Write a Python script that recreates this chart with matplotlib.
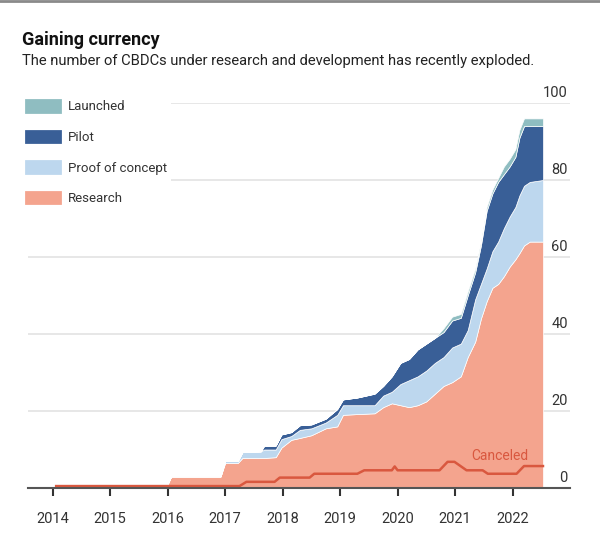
import matplotlib
matplotlib.use("Agg")
import matplotlib.pyplot as plt
from matplotlib.patches import Patch
from matplotlib.lines import Line2D

plt.rcParams['font.family'] = ['Liberation Sans Narrow', 'Roboto', 'DejaVu Sans']

# decimal years of the stacked series
years = [2014.06, 2016.0, 2016.06, 2016.92, 2017.0, 2017.22, 2017.3, 2017.62, 2017.68, 2017.88,
         2017.98, 2018.15, 2018.3, 2018.5, 2018.75, 2018.95, 2019.05, 2019.3, 2019.6, 2019.75,
         2019.9, 2020.05, 2020.2, 2020.35, 2020.5, 2020.65, 2020.8, 2020.95, 2021.1, 2021.22,
         2021.35, 2021.45, 2021.55, 2021.65, 2021.75, 2021.85, 2021.95, 2022.05, 2022.12, 2022.2,
         2022.3, 2022.53]
research = [1, 1, 3, 3, 6.5, 6.5, 7.8, 7.8, 7.8, 8,
            10.5, 12.5, 13, 13.7, 15.5, 16, 19, 19.2, 19.4, 21,
            22, 21.5, 21, 21.5, 22.5, 24.5, 26.5, 27.5, 29, 34,
            38, 44, 48.5, 52, 53, 55, 57.5, 59.4, 61, 63,
            64, 64]
proof = [0, 0, 0, 0, 0.5, 0.5, 1.5, 1.7, 2.2, 2,
         2.2, 1, 2.1, 1.8, 1.5, 3, 2.5, 2.3, 2.1, 3,
         3, 5.5, 7, 7.5, 8, 8, 7.5, 9, 8.5, 7,
         11, 9, 8.5, 9.5, 11, 12.5, 13, 13.6, 15, 15.5,
         15.5, 16]
pilot = [0, 0, 0, 0, 0, 0, 0, 0, 1, 1,
         1.2, 1, 1.2, 1, 1, 1.5, 1.5, 2, 3, 2.5,
         4, 5.5, 5.5, 7, 7, 6.5, 6.5, 7, 6.7, 9,
         7, 10, 15, 15, 15.5, 14, 13, 13, 15, 15.5,
         14.5, 14]
launched = [0, 0, 0, 0, 0, 0, 0, 0, 0, 0,
            0, 0, 0, 0, 0, 0, 0, 0, 0, 0,
            0, 0, 0, 0, 0, 0, 1, 1, 1, 1,
            1, 1, 1, 1, 1, 2, 2, 2, 2, 2,
            2, 2]

cancel_years = [2014.06, 2017.25, 2017.37, 2017.86, 2017.95, 2018.47, 2018.55, 2019.3, 2019.42,
                2019.9, 2019.95, 2020.0, 2020.73, 2020.87, 2020.99, 2021.2, 2021.48, 2021.57,
                2022.07, 2022.2, 2022.53]
canceled = [0.5, 0.5, 1.6, 1.6, 2.7, 2.7, 3.7, 3.7, 4.6,
            4.6, 5.6, 4.6, 4.6, 6.8, 6.8, 4.6, 4.6, 3.7,
            3.7, 5.7, 5.7]

labels = ['Research', 'Proof of concept', 'Pilot', 'Launched']
colors = ['#f4a48e', '#bdd7ee', '#395f97', '#8fbdc1']
year_ticks = list(range(2014, 2023))
y_ticks = [0, 20, 40, 60, 80, 100]

fig = plt.figure(figsize=(6, 5.46), dpi=100)
ax = fig.add_axes([28 / 600, 1 - 488 / 546, 542 / 600, 385 / 546])

for v in y_ticks[1:]:
    ax.axhline(v, color='#e3e3e3', lw=1.2, zorder=0)

ax.stackplot(years, research, proof, pilot, launched, colors=colors,
             edgecolor='white', linewidth=0.5, zorder=2)
ax.plot(cancel_years, canceled, color='#d9583f', lw=1.8, zorder=3)
ax.text(2021.78, 8.3, 'Canceled', color='#d9583f', fontsize=10, ha='center', va='center', zorder=4)

for v in y_ticks:
    ax.text(2022.96, v + 2.6, str(v), ha='right', va='center', fontsize=10.5, color='#333333')

ax.set_xlim(2013.57, 2023.0)
ax.set_ylim(0, 100)
ax.set_xticks(year_ticks)
ax.set_xticklabels([str(y) for y in year_ticks], fontsize=10.5, color='#333333')
ax.set_yticks([])
for side in ['top', 'right', 'left']:
    ax.spines[side].set_visible(False)
ax.spines['bottom'].set_color('#555555')
ax.spines['bottom'].set_linewidth(1.5)
ax.spines['bottom'].set_zorder(5)
ax.tick_params(axis='x', length=6, width=1.5, color='#333333', pad=11)

handles = [Patch(facecolor=c, edgecolor=c, linewidth=2, joinstyle='round') for c in colors]
leg = ax.legend(handles[::-1], labels[::-1], loc='upper left',
                bbox_to_anchor=(22 / 600, 1 - 96 / 546), bbox_transform=fig.transFigure,
                fontsize=9.5, handlelength=2.6, handleheight=1.0, handletextpad=0.6,
                labelspacing=1.3, borderpad=0.3, borderaxespad=0, frameon=True,
                facecolor='white', edgecolor='none', framealpha=1, fancybox=False)
for t in leg.get_texts():
    t.set_color('#333333')

fig.text(22 / 600, 1 - 40 / 546, 'Gaining currency', fontsize=13, fontweight='bold',
         color='#111111', va='center')
fig.text(22 / 600, 1 - 61 / 546,
         'The number of CBDCs under research and development has recently exploded.',
         fontsize=10.6, color='#222222', va='center')
fig.add_artist(Line2D([0, 1], [1 - 1 / 546, 1 - 1 / 546], transform=fig.transFigure,
                      color='#8a8a8a', lw=2))

fig.savefig('out.png', dpi=100)
